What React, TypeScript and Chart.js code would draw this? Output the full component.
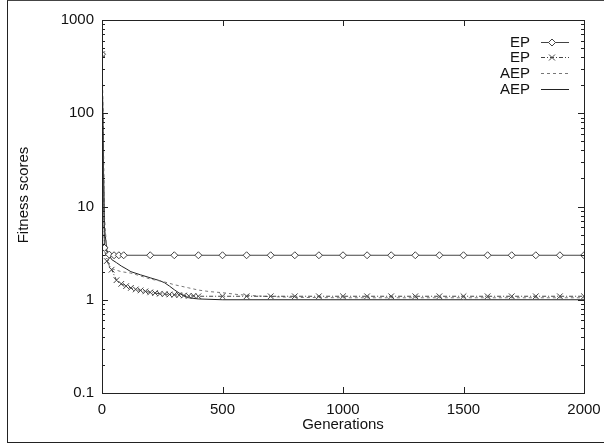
import React, { useEffect, useRef } from "react";
import { Chart, registerables } from "chart.js";

Chart.register(...registerables);

// ---- data ----
const xTickValues = [0, 500, 1000, 1500, 2000];
const yTickValues = [0.1, 1, 10, 100, 1000];
const legendLabels = ["EP", "EP", "AEP", "AEP"];

const epDiamondGen = [0, 10, 30, 50, 70, 90, 200, 300, 400, 500, 600, 700, 800, 900, 1000, 1100, 1200, 1300, 1400, 1500, 1600, 1700, 1800, 1900, 2000];
const epDiamondFit = [430, 3.6, 3.05, 3.0, 3.0, 3.0, 3.0, 3.0, 3.0, 3.0, 3.0, 3.0, 3.0, 3.0, 3.0, 3.0, 3.0, 3.0, 3.0, 3.0, 3.0, 3.0, 3.0, 3.0, 3.0];

const epCrossGen = [0, 10, 20, 40, 60, 80, 100, 120, 140, 160, 180, 200, 220, 240, 260, 280, 300, 320, 340, 360, 380, 400, 500, 600, 700, 800, 900, 1000, 1100, 1200, 1300, 1400, 1500, 1600, 1700, 1800, 1900, 2000];
const epCrossFit = [430, 3.5, 2.6, 2.1, 1.62, 1.48, 1.4, 1.34, 1.29, 1.26, 1.23, 1.2, 1.18, 1.16, 1.15, 1.14, 1.13, 1.12, 1.11, 1.1, 1.1, 1.09, 1.09, 1.09, 1.09, 1.09, 1.09, 1.09, 1.09, 1.09, 1.09, 1.09, 1.09, 1.09, 1.09, 1.09, 1.09, 1.09];

const aepDashGen = [0, 5, 10, 20, 30, 40, 80, 120, 160, 200, 260, 300, 360, 400, 450, 500, 560, 640, 700, 800, 1000, 1500, 2000];
const aepDashFit = [430, 90, 8, 3.3, 2.3, 2.15, 2.0, 1.93, 1.8, 1.67, 1.55, 1.45, 1.34, 1.27, 1.22, 1.19, 1.14, 1.1, 1.08, 1.06, 1.05, 1.05, 1.05];

const aepSolidGen = [0, 5, 10, 20, 40, 60, 80, 100, 120, 160, 200, 240, 260, 280, 300, 320, 340, 360, 400, 500, 1000, 1500, 2000];
const aepSolidFit = [430, 40, 6, 3.4, 2.7, 2.5, 2.3, 2.15, 2.0, 1.85, 1.72, 1.6, 1.52, 1.4, 1.28, 1.18, 1.1, 1.05, 1.02, 1.0, 1.0, 1.0, 1.0];

const FONT = "'Liberation Sans', Arial, Helvetica, sans-serif";

const toPoints = (xs: number[], ys: number[]) => xs.map((x, i) => ({ x, y: ys[i] }));

const seriesStyles = [
  { color: "#444", dash: [] as number[], marker: "diamond" },
  { color: "#444", dash: [4, 2, 1, 2], marker: "cross" },
  { color: "#777", dash: [3, 3], marker: "none" },
  { color: "#222", dash: [] as number[], marker: "none" },
];

function drawMarker(ctx: CanvasRenderingContext2D, kind: string, cx: number, cy: number, color: string) {
  ctx.save();
  ctx.setLineDash([]);
  ctx.strokeStyle = color;
  ctx.lineWidth = 1;
  if (kind === "diamond") {
    ctx.fillStyle = "#fff";
    ctx.beginPath();
    ctx.moveTo(cx, cy - 3.5);
    ctx.lineTo(cx + 3.5, cy);
    ctx.lineTo(cx, cy + 3.5);
    ctx.lineTo(cx - 3.5, cy);
    ctx.closePath();
    ctx.fill();
    ctx.stroke();
  } else if (kind === "cross") {
    ctx.beginPath();
    ctx.moveTo(cx - 3, cy - 3);
    ctx.lineTo(cx + 3, cy + 3);
    ctx.moveTo(cx + 3, cy - 3);
    ctx.lineTo(cx - 3, cy + 3);
    ctx.stroke();
  }
  ctx.restore();
}

const paperPlugin = {
  id: "paperAxes",
  afterDraw(chart: any) {
    const ctx: CanvasRenderingContext2D = chart.ctx;
    const { left, right, top, bottom } = chart.chartArea;
    const xs = chart.scales.x;
    const ys = chart.scales.y;
    ctx.save();
    ctx.strokeStyle = "#222";
    ctx.lineWidth = 1;
    ctx.setLineDash([]);
    // box
    ctx.strokeRect(Math.round(left) + 0.5, Math.round(top) + 0.5, Math.round(right - left), Math.round(bottom - top));
    // x ticks
    ctx.beginPath();
    for (const v of xTickValues) {
      const px = Math.round(xs.getPixelForValue(v)) + 0.5;
      ctx.moveTo(px, bottom);
      ctx.lineTo(px, bottom - 6);
      ctx.moveTo(px, top);
      ctx.lineTo(px, top + 6);
    }
    // y ticks (major + minor)
    for (let d = -1; d <= 3; d++) {
      for (let m = 1; m <= 9; m++) {
        const v = m * Math.pow(10, d);
        if (v > 1000.0001) break;
        const py = Math.round(ys.getPixelForValue(v)) + 0.5;
        const len = m === 1 ? 6 : 3;
        ctx.moveTo(left, py);
        ctx.lineTo(left + len, py);
        ctx.moveTo(right, py);
        ctx.lineTo(right - len, py);
      }
    }
    ctx.stroke();

    // axis titles
    ctx.fillStyle = "#111";
    ctx.font = `15px ${FONT}`;
    ctx.textAlign = "center";
    ctx.textBaseline = "middle";
    ctx.fillText("Generations", (left + right) / 2, 425);
    ctx.save();
    ctx.translate(24, 195);
    ctx.rotate(-Math.PI / 2);
    ctx.fillText("Fitness scores", 0, 0);
    ctx.restore();

    // legend
    const rowY = [42, 57, 73, 89];
    ctx.textAlign = "right";
    legendLabels.forEach((lab, i) => {
      const st = seriesStyles[i];
      const y = rowY[i];
      ctx.fillStyle = "#111";
      ctx.fillText(lab, 530, y + 1);
      ctx.strokeStyle = st.color;
      ctx.setLineDash(st.dash);
      ctx.beginPath();
      ctx.moveTo(541, y + 0.5);
      ctx.lineTo(569, y + 0.5);
      ctx.stroke();
      ctx.setLineDash([]);
      drawMarker(ctx, st.marker, 552, y + 0.5, st.color);
    });
    ctx.restore();
  },
};

export default function App() {
  const ref = useRef<HTMLCanvasElement | null>(null);

  useEffect(() => {
    if (!ref.current) return;
    const chart = new Chart(ref.current, {
      type: "line",
      data: {
        datasets: [
          {
            label: "EP",
            data: toPoints(epDiamondGen, epDiamondFit),
            borderColor: seriesStyles[0].color,
            borderWidth: 1,
            pointStyle: "rectRot",
            pointRadius: 3.5,
            pointBackgroundColor: "#fff",
            pointBorderColor: seriesStyles[0].color,
            pointBorderWidth: 1,
            tension: 0,
          },
          {
            label: "EP",
            data: toPoints(epCrossGen, epCrossFit),
            borderColor: seriesStyles[1].color,
            borderDash: seriesStyles[1].dash,
            borderWidth: 1,
            pointStyle: "crossRot",
            pointRadius: 4,
            pointBorderColor: seriesStyles[1].color,
            pointBorderWidth: 1,
            tension: 0,
          },
          {
            label: "AEP",
            data: toPoints(aepDashGen, aepDashFit),
            borderColor: seriesStyles[2].color,
            borderDash: seriesStyles[2].dash,
            borderWidth: 1,
            pointRadius: 0,
            tension: 0,
          },
          {
            label: "AEP",
            data: toPoints(aepSolidGen, aepSolidFit),
            borderColor: seriesStyles[3].color,
            borderWidth: 1,
            pointRadius: 0,
            tension: 0,
          },
        ],
      },
      options: {
        animation: false,
        responsive: false,
        devicePixelRatio: 1,
        layout: { padding: { top: 20, right: 20, left: 0, bottom: 0 } },
        plugins: { legend: { display: false }, tooltip: { enabled: false } },
        scales: {
          x: {
            type: "linear",
            min: 0,
            max: 2000,
            grid: { display: false, drawTicks: false },
            border: { display: false },
            afterBuildTicks: (scale: any) => {
              scale.ticks = xTickValues.map((v) => ({ value: v }));
            },
            afterFit: (scale: any) => {
              scale.height = 54;
              scale.paddingLeft = 0;
              scale.paddingRight = 0;
            },
            ticks: {
              padding: 8,
              color: "#111",
              font: { family: FONT, size: 15 },
              maxRotation: 0,
              callback: (v: any) => String(v),
            },
          },
          y: {
            type: "logarithmic",
            min: 0.1,
            max: 1000,
            grid: { display: false, drawTicks: false },
            border: { display: false },
            afterBuildTicks: (scale: any) => {
              scale.ticks = yTickValues.map((v) => ({ value: v }));
            },
            afterFit: (scale: any) => {
              scale.width = 102;
              scale.paddingTop = 0;
              scale.paddingBottom = 0;
            },
            ticks: {
              padding: 8,
              color: "#111",
              font: { family: FONT, size: 15 },
              callback: (v: any) => (Number(v) < 1 ? "0.1" : String(Math.round(Number(v)))),
            },
          },
        },
      },
      plugins: [paperPlugin],
    } as any);
    return () => chart.destroy();
  }, []);

  return (
    <div style={{ position: "fixed", left: 0, top: 0, width: 604, height: 447, background: "#fff" }}>
      <div
        style={{
          position: "absolute",
          left: 7,
          top: 0,
          width: 597,
          height: 443,
          boxSizing: "border-box",
          borderLeft: "1px solid #222",
          borderBottom: "1px solid #222",
          borderTop: "1px solid #444",
        }}
      />
      <canvas ref={ref} width={604} height={447} style={{ position: "absolute", left: 0, top: 0, width: 604, height: 447 }} />
    </div>
  );
}
